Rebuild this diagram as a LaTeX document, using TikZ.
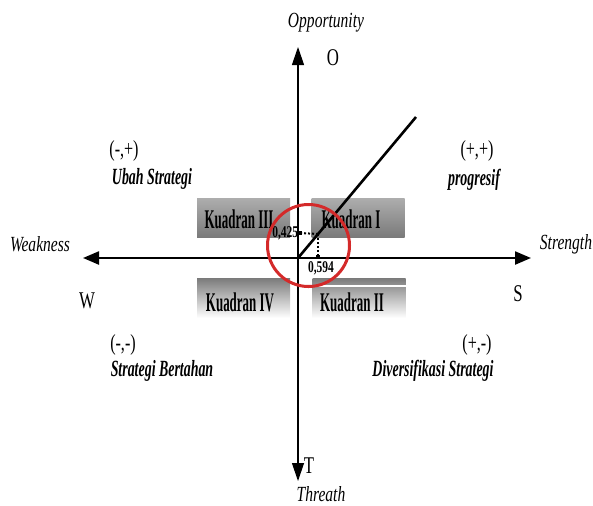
\documentclass[tikz,border=0pt]{standalone}
\usepackage{fontspec}
\setmainfont{Liberation Serif}
\usetikzlibrary{arrows.meta}
\newfontfamily\kfont[FakeStretch=0.48]{Liberation Serif}
\newfontfamily\itfont[FakeStretch=0.72]{Liberation Serif}
\newfontfamily\stfont[FakeStretch=0.6]{Liberation Serif}
\newfontfamily\rgfont[FakeStretch=0.7]{Liberation Serif}
\newfontfamily\valfont[FakeStretch=0.7]{Liberation Serif}
\definecolor{circred}{HTML}{D42A2A}
\begin{document}
\begin{tikzpicture}[x=0.5pt,y=-0.5pt,
  axis/.style={line width=0.6pt},
  haxis/.style={line width=1.1pt},
  upbox/.style={inner sep=0pt,minimum width=46.5pt,minimum height=19.5pt,
     top color=black!32,middle color=black!8,bottom color=black!52},
  lowbox/.style={inner sep=0pt,minimum width=46.5pt,minimum height=20pt,
     top color=black!52,bottom color=white},
  ktext/.style={font=\kfont\bfseries\fontsize{13.5}{14}\selectfont,inner sep=0pt},
  ittext/.style={font=\itfont\itshape\fontsize{10.8}{12}\selectfont,inner sep=0pt},
  sttext/.style={font=\stfont\bfseries\itshape\fontsize{11.6}{13}\selectfont,inner sep=0pt},
  rgtext/.style={font=\rgfont\fontsize{12}{13}\selectfont,inner sep=0pt},
  pmtext/.style={font=\rgfont\fontsize{11.5}{13}\selectfont,inner sep=0pt},
  valtext/.style={font=\valfont\bfseries\fontsize{8.2}{9}\selectfont,inner sep=0pt},
  marker/.style={fill=black,inner sep=0pt,minimum size=1.6pt}
]
\useasboundingbox (0,0) rectangle (593,505);

% coordinates
\coordinate (O) at (298,258);
\coordinate (ntip) at (298,47);
\coordinate (stip) at (298,481);
\coordinate (wtip) at (83,258);
\coordinate (etip) at (531,258);
\coordinate (lineend) at (416,117);
\coordinate (P) at (318,234);

% quadrant boxes
\node[upbox] (bIII) at (243.5,217.5) {};
\node[upbox] (bI) at (358,217.5) {};
\node[lowbox] (bIV) at (243.5,298) {};
\node[lowbox] (bII) at (359,298) {};
\draw[white,line width=0.6pt] (bII.west |- 0,286) -- (bII.east |- 0,286);

\node[ktext] (kIII) at (239,219) {Kuadran III};
\node[ktext] (kI) at (351,219) {Kuadran I};
\node[ktext] (kIV) at (240,302) {Kuadran IV};
\node[ktext] (kII) at (352,302) {Kuadran II};

% axes
\draw[axis,-{Triangle[length=9pt,width=6pt]}] (O) -- (ntip);
\draw[axis,-{Triangle[length=9pt,width=6pt]}] (O) -- (stip);
\draw[haxis,{Triangle[length=8pt,width=6.5pt]}-{Triangle[length=8pt,width=6.5pt]}] (wtip) -- (etip);

% diagonal line
\draw[line width=1.3pt] (O) -- (lineend);

% dotted projections
\node[marker] (mx) at (300,233) {};
\node[marker] (my) at (318,257) {};
\draw[line width=1pt,densely dotted] (P) -- (mx);
\draw[line width=1pt,densely dotted] (P) -- (my);
\node[valtext,anchor=east] (v425) at (298.5,233) {0,425};
\node[valtext] (v594) at (321,268.5) {0,594};

% highlight circle
\node[circle,draw=circred,line width=1.5pt,minimum size=41pt,inner sep=0pt] (hl) at (308.5,245.5) {};

% axis labels
\node[ittext] (opp) at (326,23) {Opportunity};
\node[rgtext] (lO) at (333,58) {O};
\node[ittext] (weak) at (40,244) {Weakness};
\node[rgtext] (lW) at (87,301) {W};
\node[ittext] (str) at (566,244) {Strength};
\node[rgtext] (lS) at (518,294) {S};
\node[rgtext] (lT) at (309,466) {T};
\node[ittext] (thr) at (321,494) {Threath};

% quadrant descriptions
\node[pmtext] (q2s) at (124,151) {(-,+)};
\node[sttext] (q2t) at (152,179) {Ubah Strategi};
\node[pmtext] (q1s) at (477,151) {(+,+)};
\node[sttext] (q1t) at (474,180) {progresif};
\node[pmtext] (q4s) at (123,345) {(-,-)};
\node[sttext] (q4t) at (162,371) {Strategi Bertahan};
\node[pmtext] (q3s) at (477,345) {(+,-)};
\node[sttext] (q3t) at (433,371) {Diversifikasi Strategi};
\end{tikzpicture}
\end{document}
